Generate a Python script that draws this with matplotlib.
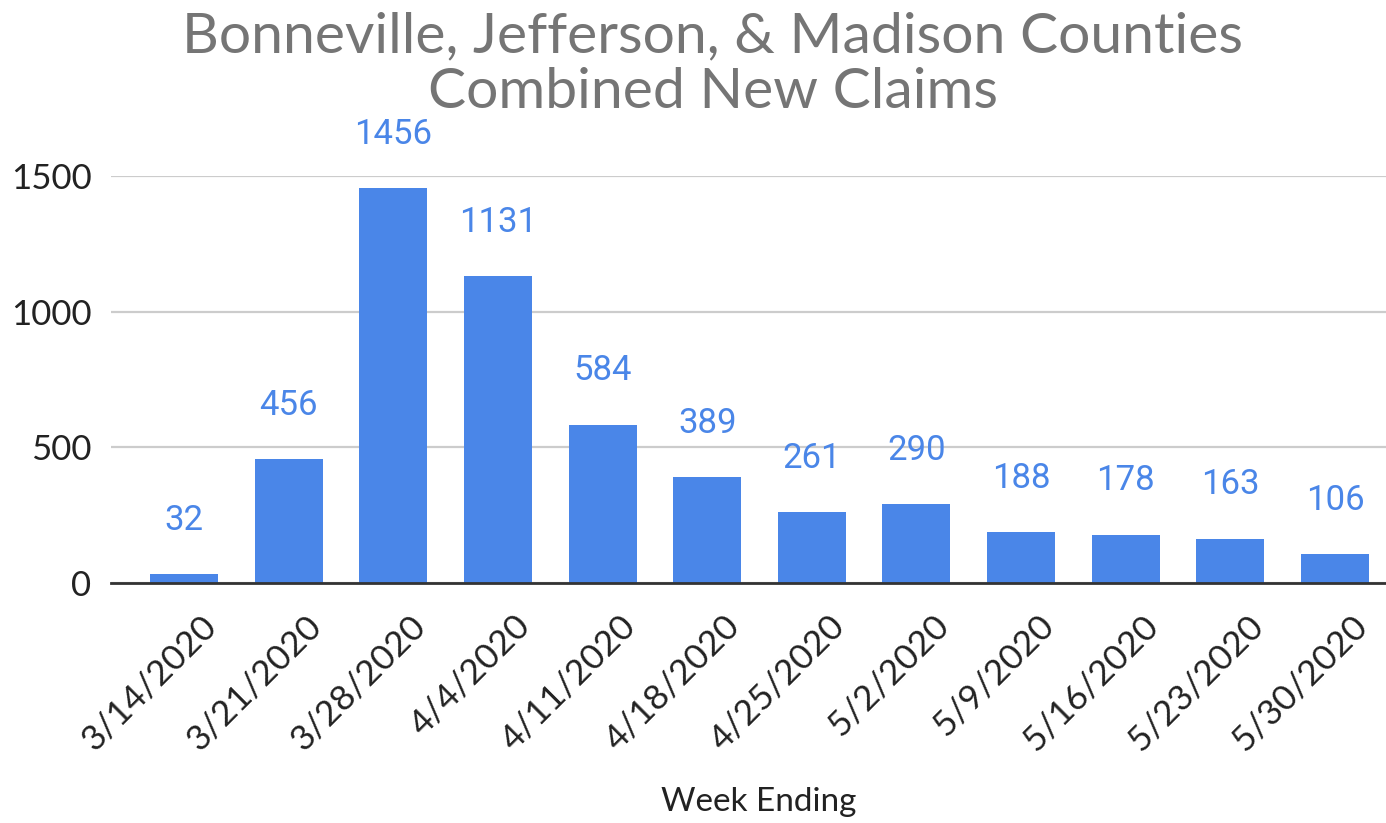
import matplotlib
matplotlib.use("Agg")
import matplotlib.pyplot as plt
import matplotlib.transforms as mtransforms

# data
weeks = ["3/14/2020", "3/21/2020", "3/28/2020", "4/4/2020", "4/11/2020", "4/18/2020",
         "4/25/2020", "5/2/2020", "5/9/2020", "5/16/2020", "5/23/2020", "5/30/2020"]
claims = [32, 456, 1456, 1131, 584, 389, 261, 290, 188, 178, 163, 106]
yticks = [0, 500, 1000, 1500]

bar_color = "#4a86e8"

fig = plt.figure(figsize=(13.86, 8.23), dpi=100)
ax = fig.add_axes([0.0801, 0.2916, 0.92, 0.4945])

x = list(range(len(weeks)))
ax.bar(x, claims, width=0.65, color=bar_color, zorder=3)

# value labels above bars
for xi, v in zip(x, claims):
    ax.annotate(str(v), (xi, v), xytext=(0, 32), textcoords="offset points",
                ha="center", va="baseline", fontsize=25, color=bar_color,
                family="Roboto", annotation_clip=False)

ax.set_xlim(-0.70, 11.49)
ax.set_ylim(0, 1500)
ax.set_yticks(yticks)
ax.set_yticklabels([str(t) for t in yticks], family="Lato", fontsize=25, color="#222222")
ax.tick_params(axis="y", length=0, pad=14)
ax.yaxis.grid(True, color="#cccccc", linewidth=1.6, zorder=0)
for s in ["top", "right", "left"]:
    ax.spines[s].set_visible(False)
ax.spines["bottom"].set_color("#333333")
ax.spines["bottom"].set_linewidth(2)
ax.spines["bottom"].set_zorder(4)

# rotated date labels, shifted a little to the right like the original
ax.set_xticks(x)
ax.tick_params(axis="x", length=0, pad=19)
ax.set_xticklabels(weeks, rotation=45, ha="right", va="top", rotation_mode="anchor",
                   family="Lato", fontsize=25.5, color="#222222")
offset = mtransforms.ScaledTranslation(0.16, 0, fig.dpi_scale_trans)
for lab in ax.get_xticklabels():
    lab.set_transform(lab.get_transform() + offset)

fig.text(759 / 1386, 1 - 802 / 823, "Week Ending", ha="center", va="center",
         family="Lato", fontsize=24, color="#222222")

fig.text(713 / 1386, 1 - 11 / 823, "Bonneville, Jefferson, & Madison Counties\nCombined New Claims",
         ha="center", va="top", family="Lato", fontsize=41, color="#757575",
         linespacing=1.11)

fig.savefig("out.png", dpi=100)
